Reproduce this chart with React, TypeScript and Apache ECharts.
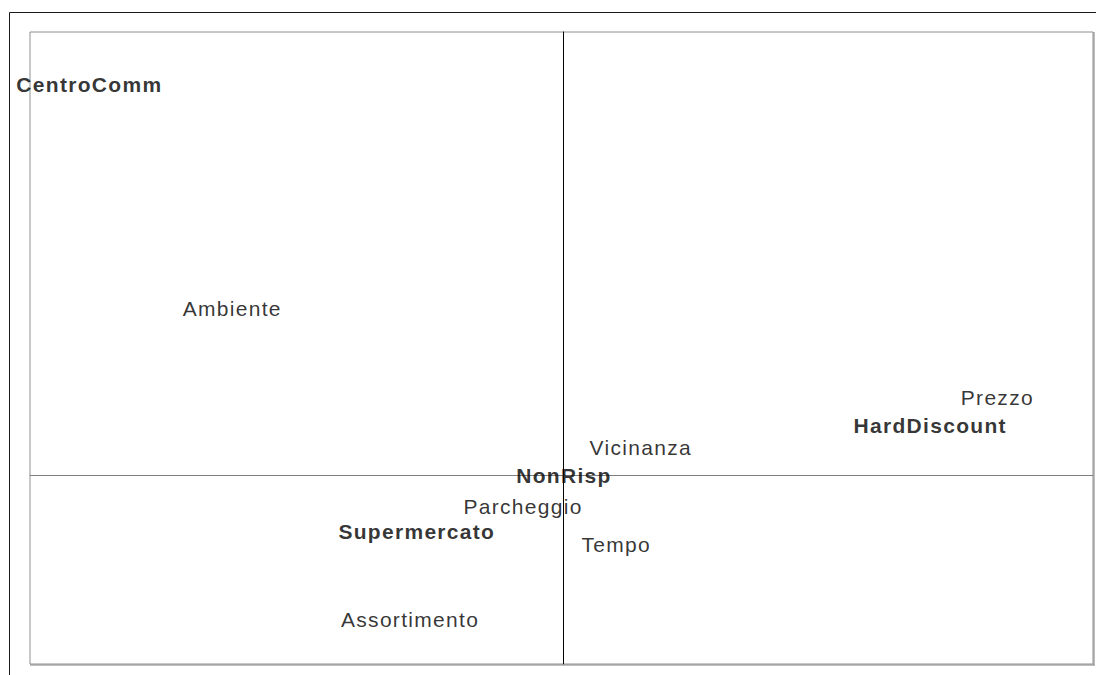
import React, { useEffect, useRef } from "react";
import * as echarts from "echarts";

// Store types (bold labels)
const storeNames = ["CentroComm", "HardDiscount", "NonRisp", "Supermercato"];
const storeX = [-1.333, 1.032, 0.002, -0.412];
const storeY = [1.242, 0.16, 0.0, -0.178];

// Attributes (regular labels)
const attrNames = ["Ambiente", "Prezzo", "Vicinanza", "Parcheggio", "Tempo", "Assortimento"];
const attrX = [-0.931, 1.221, 0.218, -0.113, 0.149, -0.431];
const attrY = [0.53, 0.248, 0.087, -0.099, -0.22, -0.457];

const xMin = -1.5;
const xMax = 1.49;
const yMin = -0.6;
const yMax = 1.41;

export default function App() {
  const ref = useRef<HTMLDivElement>(null);

  useEffect(() => {
    if (!ref.current) return;
    const chart = echarts.init(ref.current, undefined, { renderer: "svg" });
    const font = "'Liberation Sans', Arial, sans-serif";
    const mk = (names: string[], xs: number[], ys: number[]) =>
      names.map((n, i) => ({ name: n, value: [xs[i], ys[i]] }));

    chart.setOption({
      animation: false,
      backgroundColor: "#ffffff",
      grid: {
        left: 30,
        top: 32,
        right: 3,
        bottom: 11,
        show: true,
        borderColor: "#909090",
        borderWidth: 1,
        backgroundColor: "transparent",
      },
      xAxis: {
        type: "value",
        min: xMin,
        max: xMax,
        axisLine: { show: true, onZero: true, lineStyle: { color: "#808080", width: 1 } },
        axisTick: { show: false },
        axisLabel: { show: false },
        splitLine: { show: false },
      },
      yAxis: {
        type: "value",
        min: yMin,
        max: yMax,
        axisLine: { show: true, onZero: true, lineStyle: { color: "#000000", width: 1 } },
        axisTick: { show: false },
        axisLabel: { show: false },
        splitLine: { show: false },
      },
      graphic: [
        {
          type: "line",
          shape: { x1: 9.5, y1: 12.5, x2: 1200, y2: 12.5 },
          style: { stroke: "#1a1a1a", lineWidth: 1 },
          z: 10,
        },
        {
          type: "line",
          shape: { x1: 9.5, y1: 12.5, x2: 9.5, y2: 800 },
          style: { stroke: "#1a1a1a", lineWidth: 1 },
          z: 10,
        },
        {
          type: "line",
          shape: { x1: 1094, y1: 32, x2: 1094, y2: 665.5 },
          style: { stroke: "#808080", lineWidth: 1 },
          z: 10,
        },
        {
          type: "line",
          shape: { x1: 30, y1: 665, x2: 1094.5, y2: 665 },
          style: { stroke: "#808080", lineWidth: 1 },
          z: 10,
        },
      ],
      series: [
        {
          name: "Attributi",
          type: "scatter",
          symbolSize: 0,
          clip: false,
          data: mk(attrNames, attrX, attrY),
          label: {
            show: true,
            position: "inside",
            formatter: "{b}",
            color: "#000",
            fontFamily: font,
            fontSize: 21,
            fontWeight: "normal",
          },
        },
        {
          name: "Categorie",
          type: "scatter",
          symbolSize: 0,
          clip: false,
          data: mk(storeNames, storeX, storeY),
          label: {
            show: true,
            position: "inside",
            formatter: "{b}",
            color: "#000",
            fontFamily: font,
            fontSize: 21,
            fontWeight: "bold",
          },
        },
      ],
    });
    return () => chart.dispose();
  }, []);

  return (
    <>
      <style>{`.chart-root svg text { letter-spacing: 1.3px; }`}</style>
      <div
        className="chart-root"
        ref={ref}
        style={{ position: "fixed", left: 0, top: 0, width: 1096, height: 675, background: "#fff" }}
      />
    </>
  );
}
